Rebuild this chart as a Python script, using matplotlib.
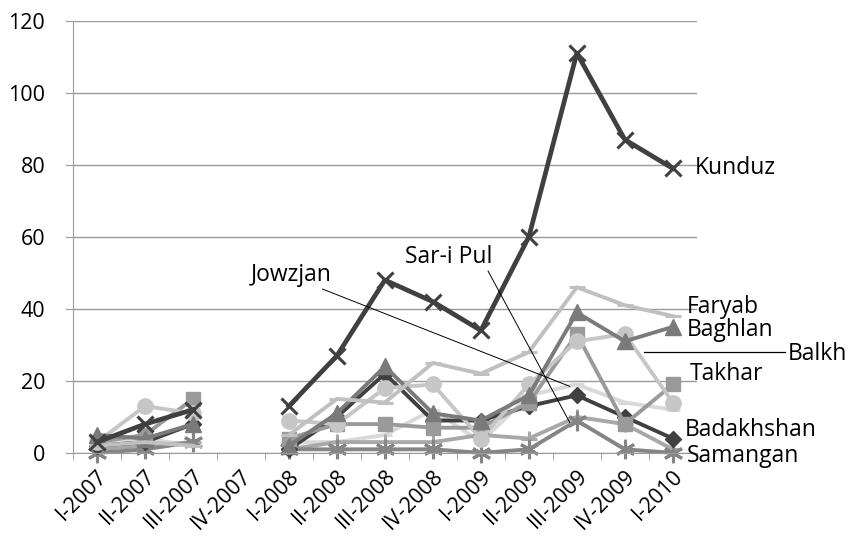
import matplotlib.pyplot as plt
import numpy as np

nan = np.nan

quarters = ["I-2007", "II-2007", "III-2007", "IV-2007", "I-2008", "II-2008", "III-2008",
            "IV-2008", "I-2009", "II-2009", "III-2009", "IV-2009", "I-2010"]

jowzjan    = [2, 4, 2, nan, 3, 3, 5, 12, 3, 16, 19, 14, 12]
sar_i_pul  = [1, 2, 3, nan, 1, 3, 3, 3, 5, 4, 10, 8, 1]
samangan   = [0, 1, 3, nan, 1, 1, 1, 1, 0, 1, 9, 1, 0]
badakhshan = [2, 3, 8, nan, 1, 10, 22, 9, 9, 13, 16, 10, 4]
takhar     = [3, 5, 15, nan, 4, 8, 8, 7, 7, 14, 33, 8, 19]
balkh      = [3, 13, 11, nan, 9, 8, 18, 19, 4, 19, 31, 33, 14]
baghlan    = [5, 4, 8, nan, 2, 11, 24, 11, 9, 16, 39, 31, 35]
faryab     = [2, 3, 2, nan, 5, 15, 14, 25, 22, 28, 46, 41, 38]
kunduz     = [3, 8, 12, nan, 13, 27, 48, 42, 34, 60, 111, 87, 79]

x = np.arange(len(quarters))

plt.rcParams['font.family'] = ['Open Sans', 'DejaVu Sans']
fig = plt.figure(figsize=(8.51, 5.47), dpi=100)
ax = fig.add_axes([0.0858, 0.172, 0.733, 0.79])

# series: data, color, marker, marker size
series = [
    (jowzjan, "#d9d9d9", "_", 10),
    (sar_i_pul, "#a8a8a8", "+", 12),
    (samangan, "#858585", (6, 2, 0), 14),
    (badakhshan, "#404040", "D", 8),
    (takhar, "#9a9a9a", "s", 10),
    (balkh, "#c6c6c6", "o", 11),
    (baghlan, "#7a7a7a", "^", 11),
    (faryab, "#c0c0c0", "_", 12),
    (kunduz, "#404040", "x", 12),
]
for vals, col, mk, ms in series:
    lw = 3.4 if vals is kunduz else 2.8
    ax.plot(x, vals, color=col, lw=lw, marker=mk, markersize=ms,
            markeredgewidth=2.2 if mk in ("x", "+", "_", (6, 2, 0)) else 1,
            markeredgecolor=col, clip_on=False)

ax.set_xlim(-0.5, 12.5)
ax.set_ylim(0, 120)
ax.set_yticks(range(0, 121, 20))
ax.grid(axis="y", color="#9a9a9a", lw=1)
ax.set_axisbelow(True)
for s in ["top", "right"]:
    ax.spines[s].set_visible(False)
ax.spines["left"].set_color("#9a9a9a")
ax.spines["bottom"].set_color("#9a9a9a")
ax.tick_params(axis="y", length=6, color="#9a9a9a", labelsize=15.5, pad=14)
ax.set_xticks(x)
ax.set_xticklabels(quarters, rotation=45, ha="right", rotation_mode="anchor", fontsize=15.5)
ax.set_xticks(np.arange(-0.5, 13, 1), minor=True)
ax.tick_params(axis="x", which="major", length=0, pad=9)
ax.tick_params(axis="x", which="minor", length=5, color="#9a9a9a")

fs = 16.5
ax.text(12.45, 79, "Kunduz", fontsize=fs, va="center", ha="left", clip_on=False)
ax.text(12.3, 40.5, "Faryab", fontsize=fs, va="center", ha="left", clip_on=False)
ax.text(12.3, 34, "Baghlan", fontsize=fs, va="center", ha="left", clip_on=False)
ax.text(14.4, 27.5, "Balkh", fontsize=fs, va="center", ha="left", clip_on=False)
ax.text(12.35, 22, "Takhar", fontsize=fs, va="center", ha="left", clip_on=False)
ax.text(12.25, 6.5, "Badakhshan", fontsize=fs, va="center", ha="left", clip_on=False)
ax.text(12.3, -0.8, "Samangan", fontsize=fs, va="center", ha="left", clip_on=False)
ax.text(3.2, 49.5, "Jowzjan", fontsize=fs, va="center", ha="left")
ax.text(6.42, 54.5, "Sar-i Pul", fontsize=fs, va="center", ha="left")

# leader lines
ax.plot([11.4, 14.33], [28, 28], color="black", lw=0.9, clip_on=False)
ax.plot([4.7, 9.85], [45.5, 18.5], color="black", lw=0.7)
ax.plot([8.15, 9.85], [50.5, 8.5], color="black", lw=0.7)

fig.savefig("out.png", dpi=100)
